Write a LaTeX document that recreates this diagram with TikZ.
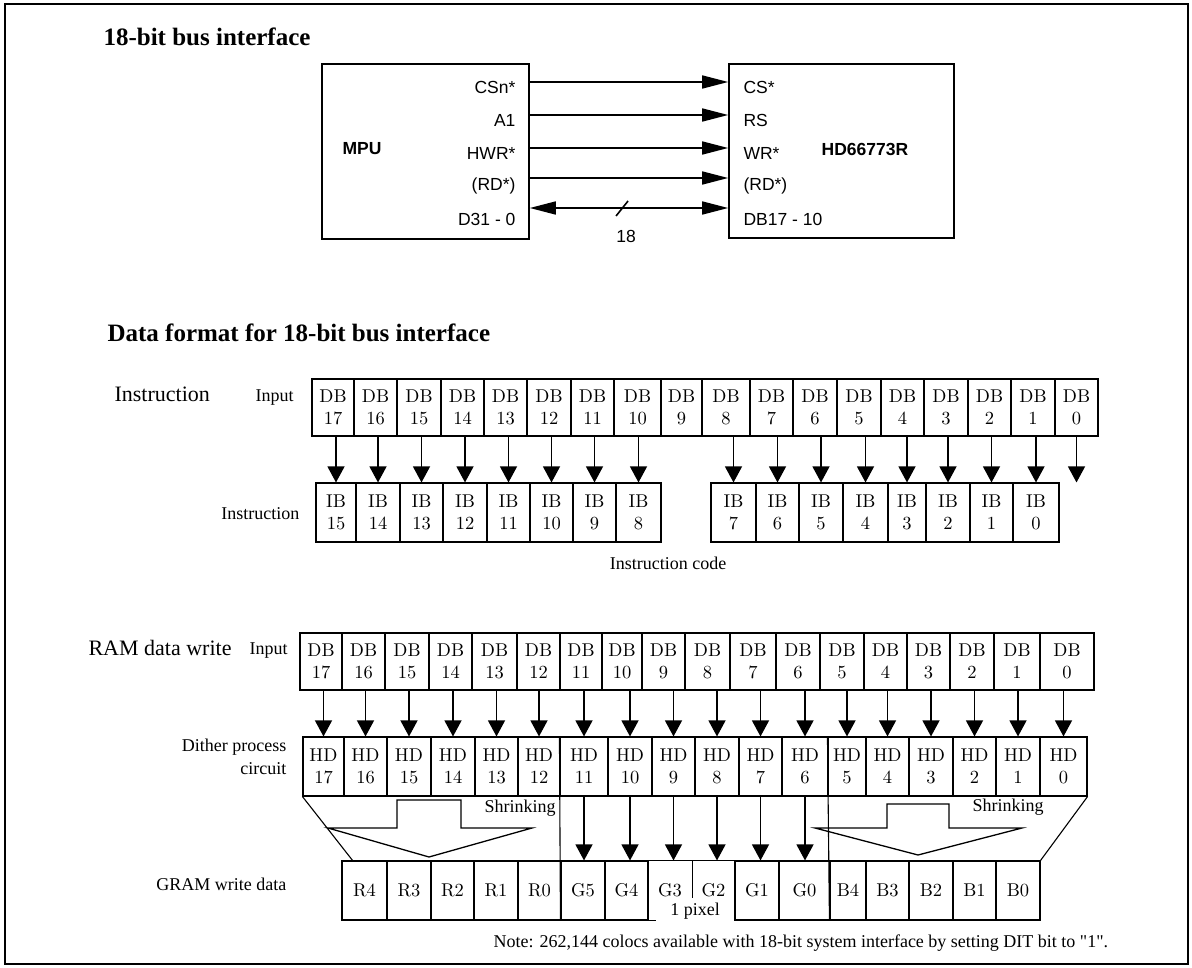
\documentclass[tikz,border=0pt]{standalone}
\usepackage{fontspec}
\usetikzlibrary{arrows.meta}
\newfontfamily\tmsfont{Liberation Serif}
\newfontfamily\hlvfont{Liberation Sans}
\newfontfamily\cmfont{lmroman10-regular.otf}
\newcommand{\ttlfont}{\tmsfont\bfseries\fontsize{25}{30}\selectfont}
\newcommand{\lgfont}{\tmsfont\fontsize{22}{26}\selectfont}
\newcommand{\lblfont}{\tmsfont\fontsize{18}{23}\selectfont}
\newcommand{\cellfont}{\cmfont\fontsize{18.5}{22}\selectfont}
\newcommand{\sigfont}{\hlvfont\fontsize{17.5}{21}\selectfont}

\begin{document}
\begin{tikzpicture}[x=1pt, y=-1pt, line width=1.1pt,
  chip/.style={draw, line width=1.6pt, inner sep=0pt},
  cell/.style={draw, inner sep=0pt, align=center, font=\cellfont},
  sig/.style={line width=1.6pt, >={Triangle[length=26pt, width=13pt]}},
  darr/.style={line width=1.3pt, -{Triangle[length=16pt, width=17pt]}},
  sigtxt/.style={inner sep=0pt, font=\sigfont},
  lbl/.style={inner sep=0pt, font=\lblfont}]
  \useasboundingbox (0,0) rectangle (1192,968);
  \draw[line width=2.4pt] (5,4) rectangle (1188,964);

  % bus interface
  \node[anchor=base west, inner sep=0pt, font=\ttlfont] (t1) at (103,46) {18-bit bus interface};
  \node[chip, minimum width=207pt, minimum height=175pt] (mpu) at (425.5,151.5) {};
  \node[chip, minimum width=225pt, minimum height=174pt] (lcd) at (841.5,151) {};
  \node[sigtxt, font=\sigfont\bfseries] (mpulbl) at (362,149) {MPU};
  \node[sigtxt, font=\sigfont\bfseries] (lcdlbl) at (865,149) {HD66773R};
  \foreach \y [count=\i] in {82,115,148,178,208}
    \coordinate (s\i) at (0,\y);
  \foreach \i in {1,...,4}
    \draw[sig, ->] (mpu.east |- s\i) -- (lcd.west |- s\i);
  \draw[sig, <->] (mpu.east |- s5) -- coordinate[pos=0.465] (bus) (lcd.west |- s5);
  \draw[line width=1.6pt] ([shift={(-6,8)}]bus) -- ([shift={(6,-7)}]bus);
  \node[sigtxt] (bw) at (626,236) {18};
  \foreach \t/\y [count=\i] in {CSn*/87, A1/120, HWR*/153, (RD*)/186, D31 - 0/219}
    \node[sigtxt, anchor=east] (l\i) at (516,\y) {\t};
  \foreach \t/\y [count=\i] in {CS*/87, RS/120, WR*/153, (RD*)/186, DB17 - 10/219}
    \node[sigtxt, anchor=west] (r\i) at (743,\y) {\t};

  % instruction
  \node[anchor=base west, inner sep=0pt, font=\ttlfont] (t2) at (107,342) {Data format for 18-bit bus interface};
  \node[lbl, font=\lgfont, anchor=base west] (ins) at (114,402) {Instruction};
  \node[lbl, anchor=base west] (in1) at (255,401) {Input};
  \node[lbl, anchor=base east] (ins2) at (300,519) {Instruction};
  \foreach \n/\l/\r in {17/312/354, 16/354/397, 15/397/441, 14/441/484, 13/484/527, 12/527/571,
      11/571/614, 10/614/661, 9/661/702, 8/702/750, 7/750/793, 6/793/837, 5/837/881, 4/881/924,
      3/924/968, 2/968/1011, 1/1011/1055, 0/1055/1098}
    \node[cell, minimum width={(\r-\l)*1pt}, minimum height=57pt] (db\n) at ({(\l+\r)/2},407.5) {DB\\\n};
  \foreach \n/\l/\r in {15/316/356, 14/356/400, 13/400/443, 12/443/487, 11/487/530, 10/530/573,
      9/573/616, 8/616/661, 7/711/756, 6/756/799, 5/799/843, 4/843/888, 3/888/926, 2/926/970,
      1/970/1013, 0/1013/1059}
    \node[cell, minimum width={(\r-\l)*1pt}, minimum height=59pt] (ib\n) at ({(\l+\r)/2},512.5) {IB\\\n};
  \foreach \a/\b in {17/15, 16/14, 15/13, 14/12, 13/11, 12/10, 11/9, 10/8,
      8/7, 7/6, 6/5, 5/4, 4/3, 3/2, 2/1, 1/0}
    \draw[darr] (ib\b.north |- db\a.south) -- (ib\b.north);
  \draw[darr] (db0.south) -- (db0.south |- ib0.north);
  \node[lbl, anchor=base] (code) at (668,569) {Instruction code};

  % RAM data write
  \node[lbl, font=\lgfont, anchor=base west] (ram) at (88,655) {RAM data write};
  \node[lbl, anchor=base west] (in2) at (249,654) {Input};
  \node[lbl, anchor=east, align=right] (dith) at (287,757) {Dither process\\circuit};
  \node[lbl, anchor=base east] (gram) at (287,890) {GRAM write data};
  \foreach \n/\l/\r in {17/300/342, 16/342/385, 15/385/429, 14/429/472, 13/472/517, 12/517/560,
      11/560/602, 10/602/642, 9/642/685, 8/685/730, 7/730/776, 6/776/820, 5/820/864, 4/864/907,
      3/907/950, 2/950/994, 1/994/1040, 0/1040/1094}
    \node[cell, minimum width={(\r-\l)*1pt}, minimum height=57pt] (rdb\n) at ({(\l+\r)/2},661.5) {DB\\\n};
  \foreach \n/\l/\r in {17/303/344, 16/344/387, 15/387/431, 14/431/475, 13/475/518, 12/518/560,
      11/560/608, 10/608/652, 9/652/695, 8/695/739, 7/739/782, 6/782/828, 5/828/866, 4/866/909,
      3/909/953, 2/953/996, 1/996/1040, 0/1040/1087}
    \node[cell, minimum width={(\r-\l)*1pt}, minimum height=59pt] (hd\n) at ({(\l+\r)/2},766.5) {HD\\\n};
  \foreach \n in {17,...,0}
    \draw[darr] (hd\n.north |- rdb\n.south) -- (hd\n.north);
  \foreach \m/\t/\l/\r in {r4/R4/342/387, r3/R3/387/431, r2/R2/431/474, r1/R1/474/518, r0/R0/518/561,
      g5/G5/561/605, g4/G4/605/648, g1/G1/735/779, g0/G0/779/830,
      b4/B4/830/866, b3/B3/866/909, b2/B2/909/953, b1/B1/953/996, b0/B0/996/1040}
    \node[cell, minimum width={(\r-\l)*1pt}, minimum height=59pt] (\m) at ({(\l+\r)/2},890.5) {\t};
  \node[cell, draw=none, minimum width=44pt, minimum height=59pt] (g3) at (670,890.5) {G3};
  \node[cell, draw=none, minimum width=43pt, minimum height=59pt] (g2) at (713.5,890.5) {G2};
  \draw (g3.north west) -- (g2.north east);
  \draw (g3.north east) -- ++(0,38);
  \draw (g3.south west) -- ++(9,0);
  \node[lbl, anchor=base] (pix) at (695,915) {1 pixel};
  \foreach \a/\b in {11/g5, 10/g4, 9/g3, 8/g2, 7/g1, 6/g0}
    \draw[darr] (hd\a.south) -- (hd\a.south |- \b.north);
  \draw (hd11.north west) -- (g5.south west);
  \draw (hd5.north west) -- (b4.south west);

  % shrinking
  \coordinate (lend) at (353,861);
  \draw (hd17.south west) -- (lend);
  \draw (hd0.south east) -- (b0.north east);
  \draw[line width=1.3pt] (328,828) -- (397,828) -- (397,800) -- (461,800) -- (461,828) -- (532,828) -- (429,857) -- cycle;
  \draw[line width=1.3pt] (815,828) -- (887,828) -- (887,804) -- (949,804) -- (949,828) -- (1022,828) -- (918,855) -- cycle;
  \node[lbl, anchor=base] (shr1) at (520,812) {Shrinking};
  \node[lbl, anchor=base] (shr2) at (1008,811) {Shrinking};

  \node[lbl, anchor=base west] (note) at (493,947) {Note: 262,144 colocs available with 18-bit system interface by setting DIT bit to "1".};
\end{tikzpicture}
\end{document}
